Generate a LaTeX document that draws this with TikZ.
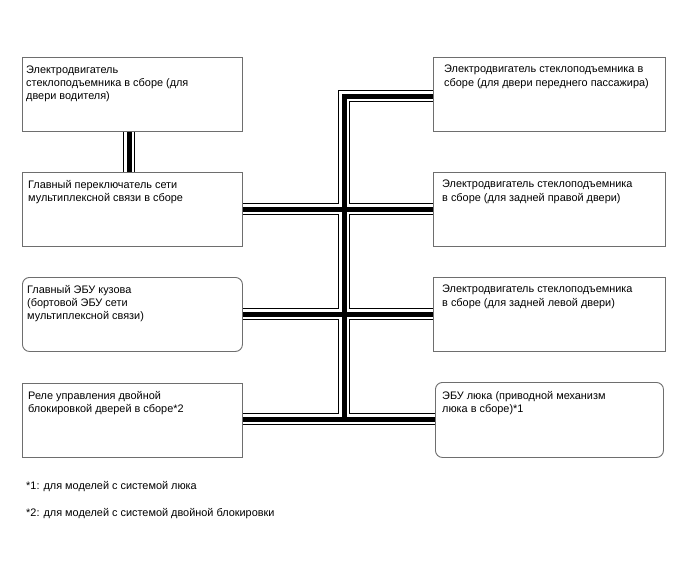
\documentclass[tikz,border=0pt]{standalone}
\usepackage{fontspec}
\setmainfont{Liberation Sans}
\definecolor{boxgray}{RGB}{110,110,110}
\begin{document}
\begin{tikzpicture}[x=1pt,y=-1pt,
  box/.style={draw=boxgray, line width=0.9pt, fill=white, anchor=north west, minimum width=220pt, minimum height=74pt, inner sep=0pt},
  rbox/.style={box, rounded corners=7pt},
  txt/.style={anchor=north west, inner sep=0pt, align=left, font=\fontsize{10.9pt}{13.2pt}\selectfont},
  busA/.style={line width=12pt, draw=black, line join=miter},
  busB/.style={line width=10pt, draw=white, line join=miter},
  busC/.style={line width=5pt, draw=black, line join=miter}]
\useasboundingbox (0,0) rectangle (688,560);
\fill[white] (0,0) rectangle (688,560);

% boxes (positions)
\coordinate (pL1) at (22,57);
\coordinate (pL2) at (22,172);
\coordinate (pL3) at (22,277);
\coordinate (pL4) at (22,383);
\coordinate (pR1) at (433,57);
\coordinate (pR2) at (433,172);
\coordinate (pR3) at (433,277);
\coordinate (pR4) at (435,382);

% bus coordinates
\coordinate (top) at (344,96);
\coordinate (bot) at (344,419);

\foreach \s in {busA,busB,busC}{
  \draw[\s] (129,131) -- (129,172);
  \draw[\s] (433,96) -- (top) -- (bot);
  \draw[\s] (242,209) -- (433,209);
  \draw[\s] (242,314) -- (433,314);
  \draw[\s] (242,419) -- (435,419);
}

\node[box] (L1) at (pL1) {};
\node[box] (L2) at (pL2) {};
\node[rbox] (L3) at (pL3) {};
\node[box] (L4) at (pL4) {};
\node[box, minimum width=232pt] (R1) at (pR1) {};
\node[box, minimum width=232pt] (R2) at (pR2) {};
\node[box, minimum width=232pt] (R3) at (pR3) {};
\node[rbox, minimum width=228pt, minimum height=75pt] (R4) at (pR4) {};

\node[txt] (tL1) at ([shift={(4,8.5)}]L1.north west) {Электродвигатель\\стеклоподъемника в сборе (для\\двери водителя)};
\node[txt] (tL2) at ([shift={(6,8)}]L2.north west) {Главный переключатель сети\\мультиплексной связи в сборе};
\node[txt] (tL3) at ([shift={(5,8)}]L3.north west) {Главный ЭБУ кузова\\(бортовой ЭБУ сети\\мультиплексной связи)};
\node[txt] (tL4) at ([shift={(6,8)}]L4.north west) {Реле управления двойной\\блокировкой дверей в сборе*2};
\node[txt] (tR1) at ([shift={(11,8)}]R1.north west) {Электродвигатель стеклоподъемника в\\сборе (для двери переднего пассажира)};
\node[txt] (tR2) at ([shift={(9,8)}]R2.north west) {Электродвигатель стеклоподъемника\\в сборе (для задней правой двери)};
\node[txt] (tR3) at ([shift={(9,8)}]R3.north west) {Электродвигатель стеклоподъемника\\в сборе (для задней левой двери)};
\node[txt] (tR4) at ([shift={(7,9)}]R4.north west) {ЭБУ люка (приводной механизм\\люка в сборе)*1};

\node[txt] (n1) at (26,481) {*1: для моделей с системой люка};
\node[txt] (n2) at (26,508) {*2: для моделей с системой двойной блокировки};
\end{tikzpicture}
\end{document}
